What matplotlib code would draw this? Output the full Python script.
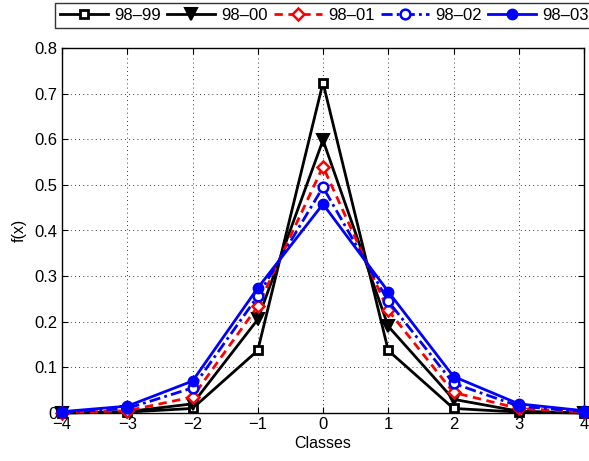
import matplotlib
matplotlib.use("Agg")
import matplotlib.pyplot as plt

classes = [-4, -3, -2, -1, 0, 1, 2, 3, 4]
s9899 = [0.0, 0.002, 0.01, 0.137, 0.724, 0.137, 0.01, 0.002, 0.0]
s9800 = [0.0, 0.003, 0.02, 0.205, 0.598, 0.19, 0.03, 0.004, 0.0]
s9801 = [0.001, 0.005, 0.035, 0.234, 0.54, 0.225, 0.045, 0.01, 0.002]
s9802 = [0.002, 0.01, 0.055, 0.256, 0.495, 0.245, 0.065, 0.015, 0.003]
s9803 = [0.003, 0.015, 0.07, 0.274, 0.458, 0.266, 0.08, 0.02, 0.005]
labels = ["98\u201399", "98\u201300", "98\u201301", "98\u201302", "98\u201303"]

plt.rcParams['font.family'] = ['Liberation Sans', 'DejaVu Sans']

fig = plt.figure(figsize=(5.89, 4.61), dpi=100)
ax = fig.add_axes([62/589, 48/461, 522/589, 365/461])

lw = 2.0
ax.plot(classes, s9899, color='black', ls='-', lw=lw, marker='s', ms=6,
        mfc='white', mec='black', mew=2.0, label=labels[0], clip_on=False, zorder=3)
ax.plot(classes, s9800, color='black', ls='-', lw=lw, marker='v', ms=8,
        mfc='black', mec='black', mew=1.5, label=labels[1], clip_on=False, zorder=3)
ax.plot(classes, s9801, color='red', ls=(0, (3, 2)), lw=lw, marker='D', ms=6,
        mfc='white', mec='red', mew=1.8, label=labels[2], clip_on=False, zorder=3)
ax.plot(classes, s9802, color='blue', ls=(0, (4, 1.5, 1, 1.5)), lw=lw, marker='o', ms=7,
        mfc='white', mec='blue', mew=1.8, label=labels[3], clip_on=False, zorder=3)
ax.plot(classes, s9803, color='blue', ls='-', lw=lw, marker='o', ms=7,
        mfc='blue', mec='blue', mew=1.5, label=labels[4], clip_on=False, zorder=3)

ax.set_xlim(-4, 4)
ax.set_ylim(0, 0.8)
ax.set_xticks(classes)
ax.set_xticklabels([str(c).replace('-', '\u2212') for c in classes])
ax.set_yticks([0, 0.1, 0.2, 0.3, 0.4, 0.5, 0.6, 0.7, 0.8])
ax.set_yticklabels(['0', '0.1', '0.2', '0.3', '0.4', '0.5', '0.6', '0.7', '0.8'])
ax.tick_params(direction='in', labelsize=12, length=4, width=0.8, top=True, right=True)
ax.tick_params(axis='x', pad=3)
ax.tick_params(axis='y', pad=3)
ax.grid(True, color='black', ls=(0, (1, 4)), lw=0.6)
for sp in ax.spines.values():
    sp.set_linewidth(1.0)
ax.set_xlabel('Classes', fontsize=11.5, labelpad=3)
ax.set_ylabel('f(x)', fontsize=11.5, labelpad=6)

leg = fig.legend(loc='upper left', bbox_to_anchor=(55/589, 1 - 3/461), ncol=5,
                 fontsize=12, frameon=True, fancybox=False, edgecolor='black',
                 handlelength=2.9, handletextpad=0.36, columnspacing=0.36,
                 borderpad=0.3, borderaxespad=0)
leg.get_frame().set_linewidth(1.0)

fig.savefig('out.png', dpi=100)
